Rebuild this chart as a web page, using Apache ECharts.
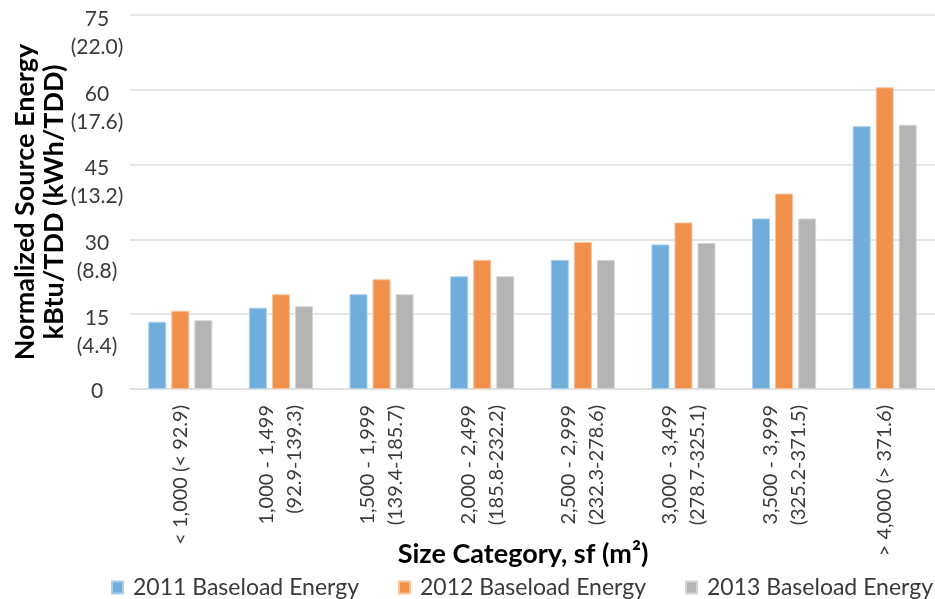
<!DOCTYPE html>
<html>
<head>
<meta charset="utf-8">
<script src="https://cdn.jsdelivr.net/npm/echarts@6/dist/echarts.min.js"></script>
<style>
  html, body { margin: 0; padding: 0; background: #ffffff; }
  #chart { width: 935px; height: 599px; }
</style>
</head>
<body>
<div id="chart"></div>
<script>
// Size categories (sf with m² range)
const categories = [
  '< 1,000 (< 92.9)',
  '1,000 - 1,499\n(92.9-139.3)',
  '1,500 - 1,999\n(139.4-185.7)',
  '2,000 - 2,499\n(185.8-232.2)',
  '2,500 - 2,999\n(232.3-278.6)',
  '3,000 - 3,499\n(278.7-325.1)',
  '3,500 - 3,999\n(325.2-371.5)',
  '> 4,000 (> 371.6)'
];

// Normalized baseload source energy, kBtu/TDD
const baseload2011 = [13.5, 16.3, 19.0, 22.6, 25.9, 29.0, 34.2, 52.7];
const baseload2012 = [15.7, 19.0, 22.0, 25.9, 29.5, 33.4, 39.2, 60.5];
const baseload2013 = [13.8, 16.6, 19.0, 22.6, 25.9, 29.3, 34.2, 53.0];

const seriesNames = ['2011 Baseload Energy', '2012 Baseload Energy', '2013 Baseload Energy'];

// Y tick values (kBtu/TDD) and their kWh/TDD equivalents
const yTicksBtu = [0, 15, 30, 45, 60, 75];
const yTicksKwh = ['', '(4.4)', '(8.8)', '(13.2)', '(17.6)', '(22.0)'];

const FONT = 'Lato, "Open Sans", sans-serif';
const fills = ['#70addb', '#f0904a', '#b4b4b4'];
const edges = ['#a8d0ee', '#f8c4a0', '#d6d6d6'];

const chart = echarts.init(document.getElementById('chart'), null, { renderer: 'canvas' });

function barSeries(name, data, i) {
  return {
    name: name,
    type: 'bar',
    data: data,
    barWidth: 18,
    barGap: '28%',
    itemStyle: { color: fills[i], borderColor: edges[i], borderWidth: 1 }
  };
}

chart.setOption({
  animation: false,
  backgroundColor: '#ffffff',
  grid: { left: 130, right: -5, top: 15, bottom: 210 },
  xAxis: {
    type: 'category',
    data: categories,
    axisLine: { lineStyle: { color: '#e0e0e0', width: 2 } },
    axisTick: { show: false },
    axisLabel: {
      interval: 0,
      rotate: 90,
      margin: 16,
      fontFamily: FONT,
      fontSize: 20,
      lineHeight: 28,
      color: '#3a3a3a'
    }
  },
  yAxis: {
    type: 'value',
    min: 0,
    max: 75,
    interval: 15,
    axisLine: { show: false },
    axisTick: { show: false },
    splitLine: { lineStyle: { color: '#e6e6e6', width: 2 } },
    axisLabel: {
      align: 'center',
      verticalAlign: 'top',
      margin: 33,
      fontFamily: FONT,
      color: '#3a3a3a',
      formatter: function (val) {
        const idx = yTicksBtu.indexOf(val);
        const kwh = idx >= 0 ? yTicksKwh[idx] : '';
        if (!kwh) return '{z|' + val + '}';
        return '{a|' + val + '}\n{b|' + kwh + '}';
      },
      rich: {
        a: { fontSize: 21, lineHeight: 8, fontFamily: FONT, color: '#3a3a3a' },
        b: { fontSize: 21, lineHeight: 48, fontFamily: FONT, color: '#3a3a3a' },
        z: { fontSize: 21, lineHeight: 4, fontFamily: FONT, color: '#3a3a3a' }
      }
    }
  },
  legend: {
    data: seriesNames,
    left: 106,
    top: 571,
    width: 900,
    icon: 'rect',
    itemWidth: 11,
    itemHeight: 12,
    itemGap: 39,
    textStyle: { fontFamily: FONT, fontSize: 23, color: '#3a3a3a', padding: [0, 0, 0, 5] }
  },
  graphic: [
    {
      type: 'text',
      x: 40,
      y: 202,
      rotation: Math.PI / 2,
      style: {
        text: 'Normalized Source Energy\nkBtu/TDD (kWh/TDD)',
        font: 'bold 27px ' + FONT,
        lineHeight: 29,
        align: 'center',
        verticalAlign: 'middle',
        fill: '#000000'
      }
    },
    {
      type: 'text',
      x: 523,
      y: 554,
      style: {
        text: 'Size Category, sf (m²)',
        font: 'bold 27px ' + FONT,
        align: 'center',
        verticalAlign: 'middle',
        fill: '#000000'
      }
    }
  ],
  series: [
    barSeries(seriesNames[0], baseload2011, 0),
    barSeries(seriesNames[1], baseload2012, 1),
    barSeries(seriesNames[2], baseload2013, 2)
  ]
});
</script>
</body>
</html>
